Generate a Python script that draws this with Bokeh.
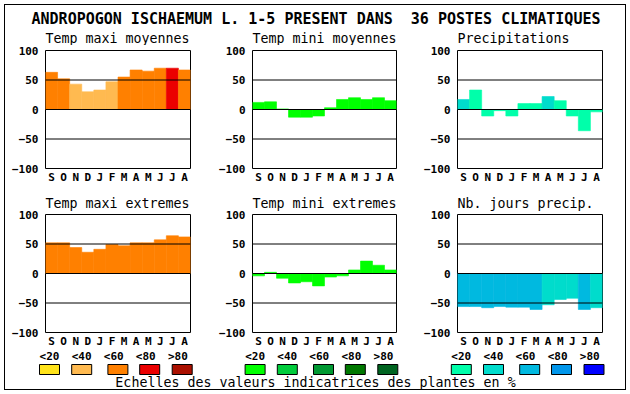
from bokeh.plotting import figure
from bokeh.models import Range1d, FixedTicker, Span, Label, ColumnDataSource
from bokeh.layouts import column, row
from bokeh.embed import file_html
from bokeh.resources import INLINE
from bokeh.core.properties import value

# ---------------- data ----------------
MONTHS = ["S", "O", "N", "D", "J", "F", "M", "A", "M", "J", "J", "A"]
Y_TICKS = [-100, -50, 0, 50, 100]
GRID_LINES = [-50, 0, 50]
CLASS_LABELS = ["<20", "<40", "<60", "<80", ">80"]

ORANGES = ["#FFE31A", "#FFBA50", "#FF8000", "#EB0000", "#AA1000"]
GREENS = ["#00FF00", "#00CC3C", "#009933", "#007800", "#006420"]
BLUES = ["#00FFAA", "#00DCCC", "#00B9E0", "#0096EB", "#0000FF"]

TITLE = "ANDROPOGON ISCHAEMUM L. 1-5 PRESENT DANS\u00a0 36 POSTES CLIMATIQUES"
CAPTION = "Echelles des valeurs indicatrices des plantes en %"

tmax_moy_title = "Temp maxi moyennes"
tmax_moy = [63, 52, 43, 30, 33, 47, 55, 67, 65, 70, 70, 67]
tmax_moy_cls = [2, 2, 1, 1, 1, 1, 2, 2, 2, 2, 3, 2]

tmin_moy_title = "Temp mini moyennes"
tmin_moy = [12, 13, 1, -13, -13, -11, 3, 17, 20, 17, 20, 15]
tmin_moy_cls = [0, 0, 0, 0, 0, 0, 0, 0, 0, 0, 0, 0]

precip_title = "Precipitations"
precip = [17, 33, -11, -2, -11, 10, 10, 22, 15, -11, -36, -4]
precip_cls = [1, 0, 0, 0, 0, 0, 0, 1, 0, 0, 0, 0]

tmax_ext_title = "Temp maxi extremes"
tmax_ext = [52, 52, 44, 36, 41, 49, 47, 52, 52, 57, 64, 62]
tmax_ext_cls = [2, 2, 2, 2, 2, 2, 2, 2, 2, 2, 2, 2]

tmin_ext_title = "Temp mini extremes"
tmin_ext = [-4, 2, -8, -16, -14, -21, -6, -4, 6, 21, 14, 6]
tmin_ext_cls = [0, 0, 0, 0, 0, 0, 0, 0, 0, 0, 0, 0]

nbj_title = "Nb. jours precip."
nbj = [-56, -56, -58, -56, -57, -57, -61, -53, -44, -42, -61, -58]
nbj_cls = [2, 2, 2, 2, 2, 2, 2, 1, 1, 1, 2, 1]

# ---------------- style ----------------
MONO = "DejaVu Sans Mono"
TICK_SIZE = "11px"
SUB_SIZE = "13.3px"


def panel(title, vals, cls, palette, width, height, left, right, top, bottom):
    p = figure(width=width, height=height, title=title,
               x_range=Range1d(0.5, len(vals) + 0.5), y_range=Range1d(-100, 100),
               output_backend="svg", toolbar_location=None,
               min_border_left=left, min_border_right=right,
               min_border_top=top, min_border_bottom=bottom)
    p.border_fill_color = None
    p.background_fill_color = "white"
    xs = list(range(1, len(vals) + 1))
    src = ColumnDataSource(dict(
        left=[x - 0.5 for x in xs], right=[x + 0.5 for x in xs],
        top=vals, bottom=[0] * len(vals),
        color=[palette[c] for c in cls]))
    p.quad(left="left", right="right", top="top", bottom="bottom",
           fill_color="color", line_color="color", line_width=0.6, source=src)
    for g in GRID_LINES:
        p.add_layout(Span(location=g, dimension="width", line_color="black", line_width=1))
    p.xgrid.visible = False
    p.ygrid.visible = False
    p.outline_line_color = "black"
    p.outline_line_width = 1
    p.outline_line_alpha = 1

    if title:
        p.title.text_font = MONO
        p.title.text_font_size = SUB_SIZE
        p.title.text_font_style = "normal"
        p.title.text_color = "black"
        p.title.align = "left"
        p.title.offset = 0
        p.title.standoff = 7

    p.xaxis.ticker = FixedTicker(ticks=xs)
    p.xaxis.major_label_overrides = {x: m for x, m in zip(xs, MONTHS)}
    p.yaxis.ticker = FixedTicker(ticks=Y_TICKS)
    for ax in (p.xaxis, p.yaxis):
        ax.axis_line_color = None
        ax.major_tick_line_color = None
        ax.minor_tick_line_color = None
        ax.major_tick_out = 0
        ax.major_tick_in = 0
        ax.major_label_text_font = MONO
        ax.major_label_text_font_size = TICK_SIZE
        ax.major_label_text_font_style = "bold"
        ax.major_label_text_color = "black"
    p.xaxis.major_label_standoff = 2
    p.yaxis.major_label_standoff = 7
    return p


W = [211, 206, 213]
L = [45, 41, 40]
R = [21, 21, 28]
X0 = [sum(W[:i]) for i in range(3)]

top_specs = [(tmax_moy_title, tmax_moy, tmax_moy_cls, ORANGES),
             (tmin_moy_title, tmin_moy, tmin_moy_cls, GREENS),
             (precip_title, precip, precip_cls, BLUES)]
bot_specs = [(tmax_ext_title, tmax_ext, tmax_ext_cls, ORANGES),
             (tmin_ext_title, tmin_ext, tmin_ext_cls, GREENS),
             (nbj_title, nbj, nbj_cls, BLUES)]

# top row: subtitles are drawn in the header strip
top_row = row([panel(None, v, c, pal, W[i], 141, L[i], R[i], 5, 16)
               for i, (t, v, c, pal) in enumerate(top_specs)])
bot_row = row([panel(t, v, c, pal, W[i], 164, L[i], R[i], 28, 16)
               for i, (t, v, c, pal) in enumerate(bot_specs)])


def strip(height, y0, y1):
    f = figure(width=630, height=height, x_range=Range1d(0, 630), y_range=Range1d(y1, y0),
               output_backend="svg", toolbar_location=None,
               min_border_left=0, min_border_right=0, min_border_top=0, min_border_bottom=0)
    f.axis.visible = False
    f.grid.visible = False
    f.outline_line_color = None
    f.border_fill_color = None
    f.background_fill_color = None
    return f


# header strip (page pixel coordinates): main title + top-row subtitles
tf = strip(45, 0, 45)
tf.add_layout(Label(x=315.5, y=18.5, text=TITLE, text_align="center", text_baseline="middle",
                    text_font=MONO, text_font_size="15px", text_font_style="bold",
                    text_color="black"))
for i, (t, v, c, pal) in enumerate(top_specs):
    tf.add_layout(Label(x=X0[i] + L[i], y=38, text=t, text_align="left",
                        text_baseline="middle", text_font=MONO, text_font_size=SUB_SIZE,
                        text_color="black"))

# legend strip
lf = strip(44, 350, 394)
group_start = [49, 254.6, 460.8]
label_step = 32.1
box_off = [0, 32.2, 68.4, 100.2, 132.7]
lx, lt, bx, bc = [], [], [], []
for g, pal in zip(group_start, [ORANGES, GREENS, BLUES]):
    for i, (lab, col) in enumerate(zip(CLASS_LABELS, pal)):
        lx.append(g + i * label_step)
        lt.append(lab)
        bx.append(g + box_off[i])
        bc.append(col)
lf.text(x=lx, y=[355.5] * len(lx), text=lt, text_align="center", text_baseline="middle",
        text_font=value(MONO), text_font_size="11px", text_font_style="bold", text_color="black")
lf.rect(x=bx, y=[369] * len(bx), width=20, height=10, fill_color=bc, line_color="black",
        line_width=1)
lf.text(x=[315], y=[382], text=[CAPTION], text_align="center", text_baseline="middle",
        text_font=value(MONO), text_font_size=SUB_SIZE, text_color="black")

layout = column([tf, top_row, bot_row, lf],
                styles={"outline": "1px solid black", "outline-offset": "-5px"})

open("out.html", "w").write(file_html(layout, INLINE))
